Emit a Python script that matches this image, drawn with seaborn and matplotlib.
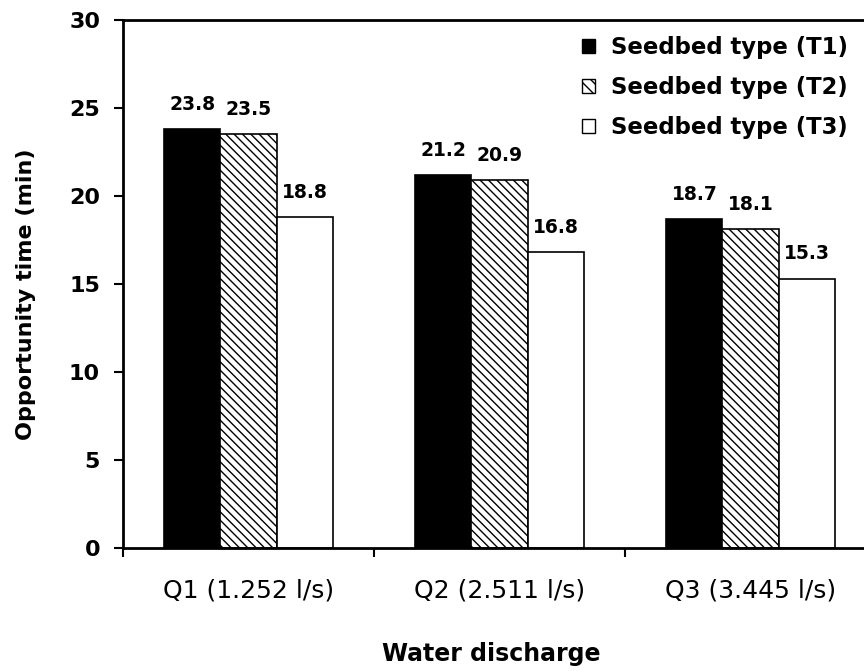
import matplotlib
matplotlib.use('Agg')
import matplotlib.pyplot as plt
import seaborn as sns
import pandas as pd
from matplotlib.patches import Patch

categories = ['Q1 (1.252 l/s)', 'Q2 (2.511 l/s)', 'Q3 (3.445 l/s)']
series_names = ['Seedbed type (T1)', 'Seedbed type (T2)', 'Seedbed type (T3)']
t1 = [23.8, 21.2, 18.7]
t2 = [23.5, 20.9, 18.1]
t3 = [18.8, 16.8, 15.3]
yticks = [0, 5, 10, 15, 20, 25, 30]

rows = []
for name, vals in zip(series_names, [t1, t2, t3]):
    for c, v in zip(categories, vals):
        rows.append({'discharge': c, 'time': v, 'type': name})
df = pd.DataFrame(rows)

sns.set_style('ticks')
plt.rcParams['font.family'] = ['DejaVu Sans']
plt.rcParams['hatch.linewidth'] = 1.0
for k in ['text.color', 'axes.labelcolor', 'xtick.color', 'ytick.color', 'axes.edgecolor']:
    plt.rcParams[k] = 'black'

HATCH = '\\\\\\\\'

fig = plt.figure(figsize=(8.64, 6.72), dpi=100)
ax = fig.add_axes([123/864, 1-548/672, 753/864, 528/672])
sns.barplot(data=df, x='discharge', y='time', hue='type', order=categories,
            hue_order=series_names, palette=['black', 'white', 'white'],
            edgecolor='black', linewidth=1.2, width=0.67, saturation=1,
            ax=ax, legend=False, errorbar=None)

for bar in ax.containers[1]:
    bar.set_hatch(HATCH)

for cont in ax.containers:
    ax.bar_label(cont, fmt='%.1f', padding=11, fontsize=13.5, fontweight='bold',
                 color='black')

ax.set_ylim(0, 30)
ax.set_yticks(yticks)
ax.set_xlim(-0.5, 2.5)
ax.set_xticks([-0.5, 0.5, 1.5, 2.5])
ax.set_xticklabels([])
ax.set_xticks([0, 1, 2], minor=True)
ax.set_xticklabels(categories, minor=True)
ax.tick_params(axis='x', which='minor', length=0, pad=22, labelsize=18)
ax.tick_params(axis='x', which='major', length=6.5, width=1.5, direction='out')
ax.tick_params(axis='y', length=6.5, width=1.5, direction='out', pad=10, labelsize=16)
for lbl in ax.get_yticklabels():
    lbl.set_fontweight('bold')

for s in ax.spines.values():
    s.set_linewidth(2)
    s.set_color('black')

ax.set_ylabel('Opportunity time (min)', fontsize=16, fontweight='bold')
ax.yaxis.set_label_coords(-0.1155, 0.48)
ax.set_xlabel('Water discharge', fontsize=17, fontweight='bold')
ax.xaxis.set_label_coords(0.489, -0.178)

handles = [Patch(facecolor='black', edgecolor='black'),
           Patch(facecolor='white', edgecolor='black', hatch='\\\\\\'),
           Patch(facecolor='white', edgecolor='black')]
fig.legend(handles, series_names, loc='upper left',
           bbox_to_anchor=(582/864, 1-36/672), frameon=False,
           prop={'weight': 'bold', 'size': 16.4}, handlelength=0.55,
           handleheight=0.55, handletextpad=0.72, labelspacing=0.74,
           borderpad=0, borderaxespad=0)

fig.savefig('out.png', dpi=100)
